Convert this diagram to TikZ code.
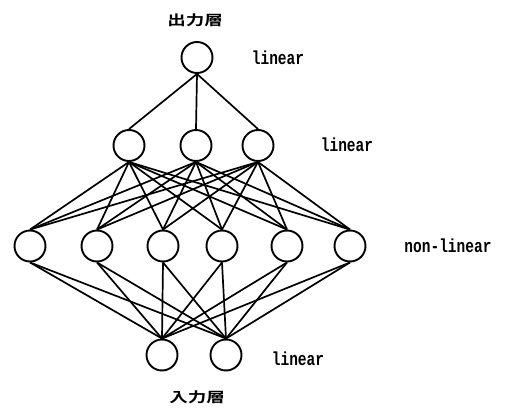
\documentclass[tikz,border=0pt]{standalone}
\usepackage{fontspec}
\newfontfamily\cjk{Noto Sans CJK JP Bold}
\newfontfamily\monob{Liberation Mono Bold}
\begin{document}
\begin{tikzpicture}[x=1pt,y=-1pt,
  neuron/.style={circle,draw,line width=1.9pt,minimum size=31pt,inner sep=0pt},
  conn/.style={line width=1.7pt},
  lab/.style={inner sep=0pt,font=\monob\fontsize{14.5}{14.5}\selectfont},
  jlab/.style={inner sep=0pt,font=\cjk\fontsize{18.5}{18.5}\selectfont}]
\useasboundingbox (0,0) rectangle (507,410);
\node[neuron] (t) at (197,57.5) {};
\node[neuron] (a1) at (129,145.5) {};
\node[neuron] (a2) at (196,145.5) {};
\node[neuron] (a3) at (258,145.5) {};
\foreach \i/\x in {1/30,2/97,3/163,4/222,5/287,6/350}
  \node[neuron] (b\i) at (\x,246) {};
\node[neuron] (c1) at (162,355) {};
\node[neuron] (c2) at (226,355) {};
\foreach \j in {1,2,3} \draw[conn] (t.south) -- (a\j.north);
\foreach \j in {1,2,3} \foreach \i in {1,...,6} \draw[conn] (a\j.south) -- (b\i.north);
\foreach \i in {1,...,6} \foreach \k in {1,2} \draw[conn] (b\i.south) -- (c\k.north);
\node[jlab] (out) at (195,20) {\scalebox{1}[0.75]{出力層}};
\node[jlab] (in) at (197,397) {\scalebox{1}[0.75]{入力層}};
\node[lab] (l1) at (278,58) {\scalebox{1}[1.3]{linear}};
\node[lab] (l2) at (347,145) {\scalebox{1}[1.3]{linear}};
\node[lab] (l3) at (448,246) {\scalebox{1}[1.3]{non-linear}};
\node[lab] (l4) at (298,359) {\scalebox{1}[1.3]{linear}};
\end{tikzpicture}
\end{document}
